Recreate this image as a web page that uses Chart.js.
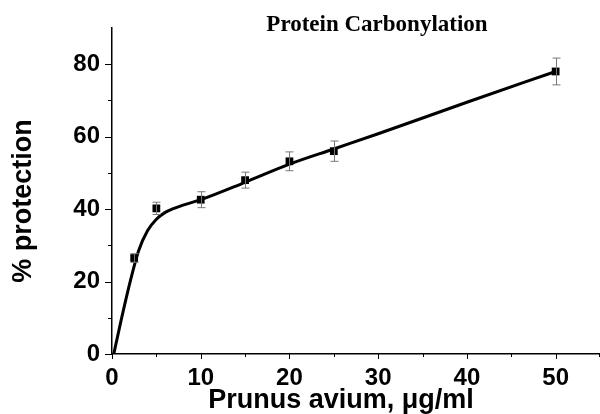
<!DOCTYPE html>
<html>
<head>
<meta charset="utf-8">
<script src="https://cdn.jsdelivr.net/npm/chart.js@4"></script>
<style>
  html, body { margin: 0; padding: 0; background: #fff; }
  #wrap { width: 600px; height: 414px; }
</style>
</head>
<body>
<div id="wrap"><canvas id="myChart"></canvas></div>
<script>
// measured points (mean +/- error)
const conc = [2.5, 5, 10, 15, 20, 25, 50];
const protection = [26.5, 40.2, 42.6, 48.0, 53.2, 56.0, 78.0];
const errs = [1.2, 1.7, 2.2, 2.2, 2.6, 2.8, 3.7];

// fitted curve
const fitX = [0.2, 1, 2, 3, 4, 5, 6, 7, 8, 10, 15, 20, 25, 30, 40, 50];
const fitY = [0, 9, 19.5, 28.5, 34, 37.2, 39.1, 40.2, 41.1, 42.6, 47.4, 52.4, 56.6, 60.8, 69.5, 78];

const xTicks = [0, 10, 20, 30, 40, 50];
const yTicks = [0, 20, 40, 60, 80];

let ctx = document.getElementById('myChart');
const sans = 'Arial, "Liberation Sans", sans-serif';

function toPts(xs, ys) {
    return xs.map((x, i) => ({ x: x, y: ys[i] }));
}

// error bars, minor ticks, titles
const extras = {
    id: 'extras',
    afterDatasetsDraw(chart) {
        let c = chart.ctx;
        let xs = chart.scales.x, ys = chart.scales.y;
        c.save();
        c.strokeStyle = '#777';
        c.lineWidth = 1;
        conc.forEach((x, i) => {
            let px = Math.round(xs.getPixelForValue(x)) + 0.5;
            let top = ys.getPixelForValue(protection[i] + errs[i]);
            let bot = ys.getPixelForValue(protection[i] - errs[i]);
            c.beginPath();
            c.moveTo(px, top); c.lineTo(px, bot);
            c.moveTo(px - 4, top); c.lineTo(px + 4, top);
            c.moveTo(px - 4, bot); c.lineTo(px + 4, bot);
            c.stroke();
        });
        c.restore();
    },
    afterDraw(chart) {
        let c = chart.ctx;
        let xs = chart.scales.x, ys = chart.scales.y;
        let area = chart.chartArea;
        c.save();
        c.strokeStyle = '#000';
        c.lineWidth = 1;
        for (let v = 0; v <= 55; v += 5) {
            let px = Math.min(Math.round(xs.getPixelForValue(v)) + 0.5, area.right - 0.5);
            let len = v % 10 == 0 ? 5 : 3;
            c.beginPath();
            c.moveTo(px, area.bottom); c.lineTo(px, area.bottom + len);
            c.stroke();
        }
        for (let v = 0; v <= 80; v += 10) {
            let py = Math.round(ys.getPixelForValue(v)) + 0.5;
            let len = v % 20 == 0 ? 7 : 4;
            c.beginPath();
            c.moveTo(area.left, py); c.lineTo(area.left - len, py);
            c.stroke();
        }
        c.fillStyle = '#000';
        c.font = 'bold 23px "Liberation Serif", "Times New Roman", serif';
        c.textAlign = 'center';
        c.textBaseline = 'alphabetic';
        c.fillText('Protein Carbonylation', 377, 31);

        // x axis title
        c.font = 'bold 27px ' + sans;
        c.textBaseline = 'middle';
        c.fillText('Prunus avium, μg/ml', 341, 401);

        // y axis title
        c.translate(24, 201);
        c.rotate(-Math.PI / 2);
        c.fillText('% protection', 0, 0);
        c.restore();
    }
};

let chart1 = new Chart(ctx, {
    type: 'scatter',
    data: {
        datasets: [{
            type: 'line',
            data: toPts(fitX, fitY),
            borderColor: '#000',
            borderWidth: 3,
            pointRadius: 0,
            cubicInterpolationMode: 'monotone',
            fill: false
        }, {
            data: toPts(conc, protection),
            pointStyle: 'rect',
            pointRadius: 5.5,
            backgroundColor: '#000',
            borderColor: '#000',
            borderWidth: 0
        }]
    },
    options: {
        responsive: true,
        maintainAspectRatio: false,
        animation: false,
        layout: { autoPadding: false, padding: { top: 28, right: 0, left: 0, bottom: 0 } },
        plugins: {
            legend: { display: false },
            tooltip: { enabled: false }
        },
        scales: {
            x: {
                type: 'linear',
                min: 0,
                max: 55,
                afterBuildTicks: s => { s.ticks = xTicks.map(v => ({ value: v })); },
                afterFit: s => { s.height = 60; s.paddingRight = 0; },
                grid: { display: true, drawOnChartArea: false, drawTicks: false },
                border: { display: true, color: '#000', width: 1.5 },
                ticks: {
                    color: '#000',
                    padding: 10,
                    maxRotation: 0,
                    font: { family: sans, size: 24, weight: 'bold' }
                }
            },
            y: {
                min: 0,
                max: 90,
                afterBuildTicks: s => { s.ticks = yTicks.map(v => ({ value: v })); },
                afterFit: s => { s.width = 112; },
                grid: { display: true, drawOnChartArea: false, drawTicks: false },
                border: { display: true, color: '#000', width: 1.5 },
                ticks: {
                    color: '#000',
                    padding: 12,
                    font: { family: sans, size: 24, weight: 'bold' }
                }
            }
        }
    },
    plugins: [extras]
});
</script>
</body>
</html>
